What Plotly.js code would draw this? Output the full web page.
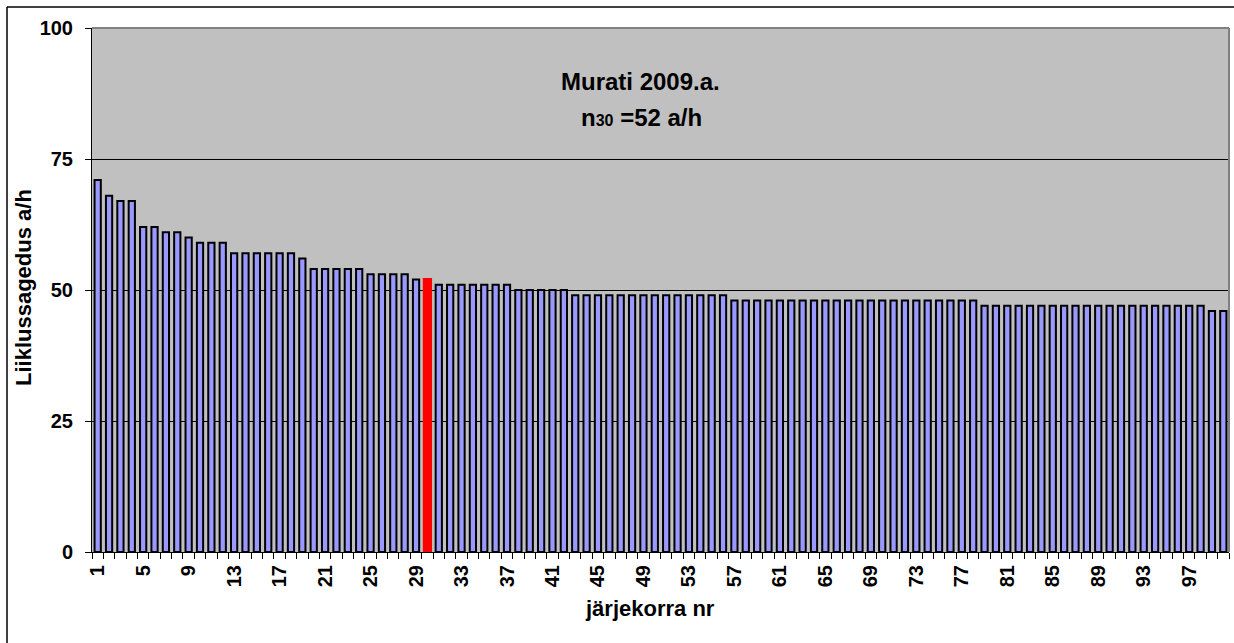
<!DOCTYPE html>
<html>
<head>
<meta charset="utf-8">
<script src="https://cdn.plot.ly/plotly-3.0.1.min.js"></script>
<style>
html,body{margin:0;padding:0;background:#fff;}
#chart{width:1234px;height:643px;}
</style>
</head>
<body>
<div id="chart"></div>
<script>
// järjekorra nr (rank)
var categories = [1,2,3,4,5,6,7,8,9,10,11,12,13,14,15,16,17,18,19,20,
  21,22,23,24,25,26,27,28,29,30,31,32,33,34,35,36,37,38,39,40,
  41,42,43,44,45,46,47,48,49,50,51,52,53,54,55,56,57,58,59,60,
  61,62,63,64,65,66,67,68,69,70,71,72,73,74,75,76,77,78,79,80,
  81,82,83,84,85,86,87,88,89,90,91,92,93,94,95,96,97,98,99,100];
// Liiklussagedus a/h
var values = [71,68,67,67,62,62,61,61,60,59,59,59,57,57,57,57,57,57,56,54,
  54,54,54,54,53,53,53,53,52,52,51,51,51,51,51,51,51,50,50,50,
  50,50,49,49,49,49,49,49,49,49,49,49,49,49,49,49,48,48,48,48,
  48,48,48,48,48,48,48,48,48,48,48,48,48,48,48,48,48,48,47,47,
  47,47,47,47,47,47,47,47,47,47,47,47,47,47,47,47,47,47,46,46];
var highlightRank = 30;
var xTickLabels = ['1','5','9','13','17','21','25','29','33','37','41','45','49','53','57','61','65','69','73','77','81','85','89','93','97'];
var yTickValues = [0,25,50,75,100];
var titleLine1 = 'Murati 2009.a.';
var titleLine2 = 'n<span style="font-size:16px">30</span> =52 a/h';
var xTitle = 'järjekorra nr';
var yTitle = 'Liiklussagedus a/h';

var font = 'Liberation Sans, Arial, sans-serif';
function b(s){ return '<b>' + s + '</b>'; }
var fillColors = categories.map(function(c){ return c === highlightRank ? '#FF0000' : '#9999FF'; });
var lineColors = categories.map(function(c){ return c === highlightRank ? '#FF0000' : '#000000'; });
var lineWidths = categories.map(function(c){ return c === highlightRank ? 3 : 2; });
var minorTicks = [categories[0]-0.5].concat(categories.map(function(c){ return c+0.5; }));

var trace = {
  type: 'bar',
  x: categories,
  y: values,
  marker: {color: fillColors, line: {color: lineColors, width: lineWidths}},
  hoverinfo: 'x+y'
};

var layout = {
  width: 1234, height: 643,
  margin: {l: 92, r: 5, t: 28, b: 91},
  paper_bgcolor: '#FFFFFF',
  plot_bgcolor: '#C0C0C0',
  bargap: 0.45,
  showlegend: false,
  font: {family: font, color: '#000'},
  xaxis: {
    range: [0.5, 100.5],
    tickmode: 'array',
    tickvals: xTickLabels.map(Number),
    ticktext: xTickLabels.map(b),
    ticks: '',
    tickangle: -90,
    tickfont: {family: font, size: 20, color: '#000'},
    ticklabelstandoff: 4,
    showgrid: false,
    zeroline: false,
    showline: true, linecolor: '#000', linewidth: 1,
    minor: {tickmode: 'array', tickvals: minorTicks, ticks: 'outside', ticklen: 6, tickcolor: '#000', tickwidth: 1, showgrid: false},
    fixedrange: true
  },
  yaxis: {
    range: [0, 100],
    tickmode: 'array',
    tickvals: yTickValues,
    ticktext: yTickValues.map(function(v){ return b(String(v)); }),
    ticks: 'outside', ticklen: 6, tickcolor: '#000', tickwidth: 1,
    tickfont: {family: font, size: 20, color: '#000'},
    showgrid: true, gridcolor: '#000000', gridwidth: 1,
    zeroline: false,
    showline: true, linecolor: '#000', linewidth: 1,
    ticklabelstandoff: 8,
    fixedrange: true
  },
  shapes: [
    {type: 'line', xref: 'paper', yref: 'paper', x0: 0, x1: 1, y0: 1, y1: 1, line: {color: '#808080', width: 2}},
    {type: 'line', xref: 'paper', yref: 'paper', x0: 1, x1: 1, y0: 0, y1: 1, line: {color: '#808080', width: 2}},
    {type: 'line', xref: 'paper', yref: 'paper', x0: -85/1137, x1: 1.1, y0: 1 + 21/524, y1: 1 + 21/524, line: {color: '#000', width: 1.5}},
    {type: 'line', xref: 'paper', yref: 'paper', x0: -85/1137, x1: -85/1137, y0: -0.3, y1: 1 + 21/524, line: {color: '#000', width: 1.5}}
  ],
  annotations: [
    {xref: 'paper', yref: 'paper', x: (640-92)/1137, y: 1 - (81-28)/524, text: b(titleLine1), showarrow: false,
     xanchor: 'center', yanchor: 'middle', font: {family: font, size: 24, color: '#000'}},
    {xref: 'paper', yref: 'paper', x: (641-92)/1137, y: 1 - (117-28)/524, text: b(titleLine2), showarrow: false,
     xanchor: 'center', yanchor: 'middle', font: {family: font, size: 24, color: '#000'}},
    {xref: 'paper', yref: 'paper', x: (650-92)/1137, y: -(608-552)/524, text: b(xTitle), showarrow: false,
     xanchor: 'center', yanchor: 'middle', font: {family: font, size: 22, color: '#000'}},
    {xref: 'paper', yref: 'paper', x: -(92-23)/1137, y: 1 - (288-28)/524, text: b(yTitle), showarrow: false, textangle: -90,
     xanchor: 'center', yanchor: 'middle', font: {family: font, size: 22, color: '#000'}}
  ]
};

Plotly.newPlot('chart', [trace], layout, {displayModeBar: false, staticPlot: true});
</script>
</body>
</html>
